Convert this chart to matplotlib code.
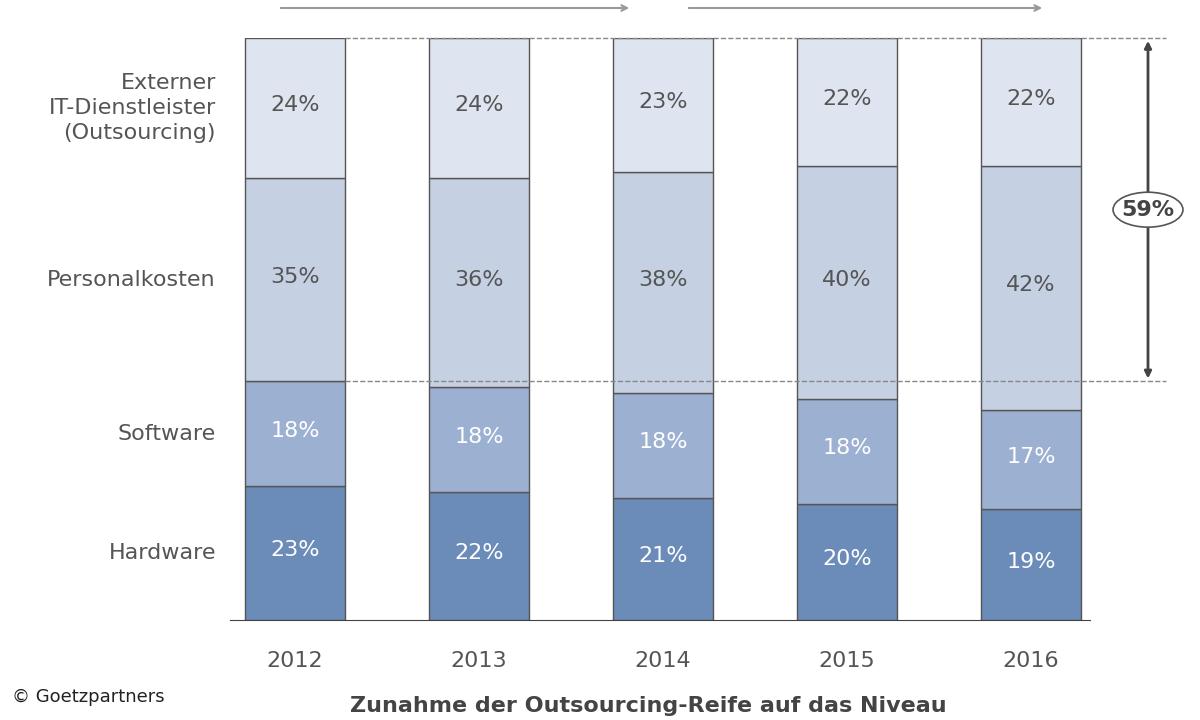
import numpy as np
import matplotlib.pyplot as plt
from matplotlib.patches import Ellipse

years = ["2012", "2013", "2014", "2015", "2016"]
categories = ["Hardware", "Software", "Personalkosten", "Externer\nIT-Dienstleister\n(Outsourcing)"]
hardware = [23, 22, 21, 20, 19]
software = [18, 18, 18, 18, 17]
personal = [35, 36, 38, 40, 42]
extern = [24, 24, 23, 22, 22]

colors = ["#6b8bb9", "#9cb0d1", "#c5d0e3", "#dfe5f0"]
text_colors = ["white", "white", "#555555", "#555555"]

fig = plt.figure(figsize=(12, 7.2), dpi=100)
ax = fig.add_axes([230 / 1200, 100 / 720, 860 / 1200, 582 / 720])
x = np.arange(len(years))
bottom = np.zeros(len(years))
for vals, col, tc in zip([hardware, software, personal, extern], colors, text_colors):
    ax.bar(x, vals, bottom=bottom, width=100 / 184, color=col,
           edgecolor="#555555", linewidth=1)
    for xi, b, v in zip(x, bottom, vals):
        ax.text(xi, b + v / 2 + 0.5, f"{v}%", ha="center", va="center",
                fontsize=16, color=tc)
    bottom += vals

ax.set_xlim(-65 / 184, (1090 - 295) / 184)
ax.set_ylim(0, 100)
for s in ["top", "right", "left"]:
    ax.spines[s].set_visible(False)
ax.spines["bottom"].set_color("#444444")
ax.set_yticks([])
ax.set_xticks(x)
ax.set_xticklabels(years, fontsize=16, color="#555555")
ax.tick_params(axis="x", length=0, pad=22)

# category labels on the left, at the 2012 segment centres
cum = np.cumsum([0, hardware[0], software[0], personal[0], extern[0]])
for name, lo, hi in zip(categories, cum[:-1], cum[1:]):
    ax.text(-0.43, (lo + hi) / 2, name, ha="right", va="center", fontsize=16,
            color="#555555", linespacing=1.3, clip_on=False)

# dashed reference lines and 59% arrow
ax_x = (1148 - 295) / 184
low = hardware[0] + software[0]
ax.plot([x[0] + 0.27, ax_x + 0.1], [100, 100], ls="--", color="#888888", lw=1, clip_on=False)
ax.plot([x[0] + 0.27, ax_x + 0.1], [low, low], ls="--", color="#888888", lw=1, clip_on=False)
ax.annotate("", xy=(ax_x, 100), xytext=(ax_x, low),
            arrowprops=dict(arrowstyle="<|-|>", color="#444444", lw=2), annotation_clip=False)
ax.add_patch(Ellipse((ax_x, 70.5), 0.38, 6, facecolor="white", edgecolor="#555555",
                     lw=1.2, clip_on=False, zorder=5))
ax.text(ax_x, 70.5, "59%", ha="center", va="center", fontsize=16, fontweight="bold",
        color="#444444", zorder=6, clip_on=False)

# top arrows
for x0, x1 in [(278, 632), (686, 1045)]:
    ax.annotate("", xy=(x1 / 1200, 1 - 8 / 720), xytext=(x0 / 1200, 1 - 8 / 720),
                xycoords="figure fraction", textcoords="figure fraction",
                arrowprops=dict(arrowstyle="->", color="#999999", lw=1.5))

fig.text(0.54, 1 - 706 / 720, "Zunahme der Outsourcing-Reife auf das Niveau", ha="center",
         va="center", fontsize=16, fontweight="bold", color="#444444")
fig.text(12 / 1200, 1 - 697 / 720, "© Goetzpartners", fontsize=13, color="#222222",
         va="center", bbox=dict(facecolor="white", edgecolor="none", pad=2))

fig.savefig("out.png", dpi=100)
